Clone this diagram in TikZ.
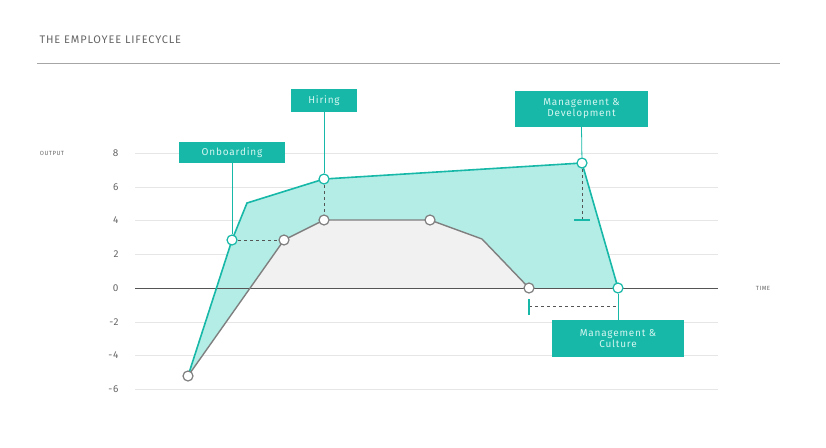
\documentclass[tikz,border=0pt]{standalone}
\usepackage{fontspec}
\setmainfont{Fira Sans}[LetterSpace=8]
\begin{document}
\begin{tikzpicture}[x=1pt,y=-1pt,
  teal/.style={draw=tealc,line width=1.6pt},
  graycurve/.style={draw=grayc,line width=1.4pt},
  tdot/.style={circle,draw=tealc,fill=white,line width=1.2pt,inner sep=0pt,minimum size=10pt},
  gdot/.style={circle,draw=grayc,fill=white,line width=1.2pt,inner sep=0pt,minimum size=10pt},
  lbl/.style={fill=tealc,text=labtxt,font=\fontsize{10}{11}\selectfont,align=center,inner sep=0pt},
  ax/.style={text=axtxt,font=\fontsize{10}{11}\selectfont,anchor=east},
  dsh/.style={draw=darkg,dashed,line width=0.7pt},
  conn/.style={draw=tealc,line width=0.8pt}]
\definecolor{tealc}{HTML}{17B8A8}
\definecolor{fillt}{HTML}{B3EDE6}
\definecolor{fillg}{HTML}{F1F1F1}
\definecolor{grayc}{HTML}{7F7F7F}
\definecolor{labtxt}{HTML}{D4F6F1}
\definecolor{axtxt}{HTML}{666666}
\definecolor{darkg}{HTML}{555555}
\definecolor{gridc}{HTML}{E6E6E6}
\useasboundingbox (0,0) rectangle (826,447);
\node[anchor=west,text=axtxt,font=\fontsize{11}{12}\selectfont] (title) at (36,40) {THE EMPLOYEE LIFECYCLE};
\draw[draw=gray!70,line width=0.8pt] (37,63) -- (780,63);
% grid
\foreach \y/\l in {153/8,187/6,220/4,254/2,322/-2,355/-4,389/-6}{
  \draw[gridc,line width=1pt] (135,\y) -- (718,\y);
  \node[ax] at (122,\y) {\l};}
\node[ax] at (122,288) {0};
\node[text=axtxt,font=\fontsize{6}{7}\selectfont] (outl) at (52,153) {OUTPUT};
\node[text=axtxt,font=\fontsize{6}{7}\selectfont] (timel) at (763,288) {TIME};
% fills
\fill[fillt] (188,376) -- (232,240) -- (247,203) -- (324,179) -- (582,163) -- (618,288) -- (529,288) -- (482,239) -- (430,220) -- (324,220) -- (284,240) -- cycle;
\fill[fillg] (250,288) -- (284,240) -- (324,220) -- (430,220) -- (482,239) -- (529,288) -- cycle;
\draw[darkg,line width=0.9pt] (135,288) -- (718,288);
% dashed helpers
\draw[dsh] (232,240) -- (284,240);
\draw[dsh] (324,179) -- (324,220);
\draw[dsh] (582,163) -- (582,220);
\draw[conn,line width=1.4pt] (574,220) -- (590,220);
\draw[dsh] (529,306) -- (618,306);
\draw[conn,line width=1.6pt] (529,299) -- (529,315);
% curves
\draw[graycurve] (188,376) -- (284,240) -- (324,220) -- (430,220) -- (482,239) -- (529,288);
\draw[teal] (188,376) -- (232,240) -- (247,203) -- (324,179) -- (582,163) -- (618,288);
% labels
\node[lbl,minimum width=106pt,minimum height=21pt] (onb) at (232,152.5) {Onboarding};
\node[lbl,minimum width=66pt,minimum height=23pt] (hir) at (324,100.5) {Hiring};
\node[lbl,minimum width=133pt,minimum height=36pt] (mdev) at (581.5,109) {Management \&\\Development};
\node[lbl,minimum width=132pt,minimum height=37pt] (mcul) at (618,338.5) {Management \&\\Culture};
% dots
\node[tdot] (t1) at (232,240) {};
\node[tdot] (t2) at (324,179) {};
\node[tdot] (t3) at (582,163) {};
\node[tdot] (t4) at (618,288) {};
\node[gdot] (g0) at (188,376) {};
\node[gdot] (g1) at (284,240) {};
\node[gdot] (g2) at (324,220) {};
\node[gdot] (g3) at (430,220) {};
\node[gdot] (g4) at (529,288) {};
\draw[conn] (onb.south) -- (t1);
\draw[conn] (hir.south) -- (t2);
\draw[conn] (mdev.south) -- (t3);
\draw[conn] (t4) -- (mcul.north);
\end{tikzpicture}
\end{document}
